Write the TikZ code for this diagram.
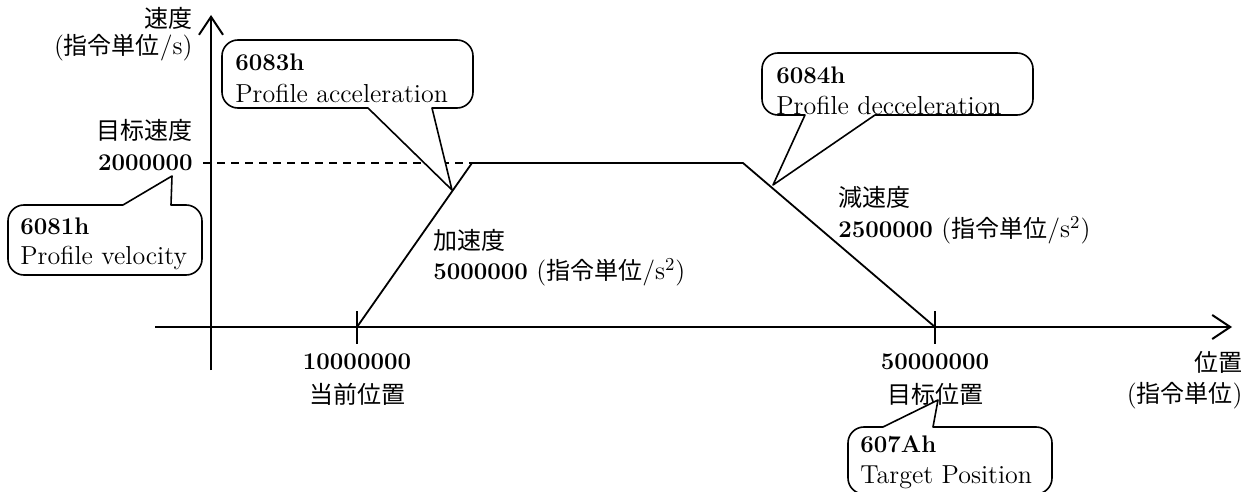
\documentclass[tikz,border=0pt]{standalone}
\usepackage{fontspec}
\newfontfamily\cjk{Noto Sans CJK JP}
\usetikzlibrary{arrows.meta}
\begin{document}
\begin{tikzpicture}[x=0.5pt,y=-0.5pt, line join=round,
  txt/.style={inner sep=0pt, font=\fontsize{13pt}{15pt}\selectfont},
  cj/.style={inner sep=0pt, font=\fontsize{12pt}{14pt}\selectfont\cjk},
  num/.style={inner sep=0pt, font=\fontsize{12pt}{14pt}\selectfont\bfseries},
  callout/.style={line width=0.8pt, fill=white},
  axis/.style={line width=1pt, -{Straight Barb[length=9pt,width=12pt,line width=1pt]}},
  curve/.style={line width=0.9pt}]
\useasboundingbox (0,0) rectangle (1244,492);
% axes
\coordinate (yb) at (211,370); \coordinate (yt) at (211,15);
\coordinate (xl) at (155,327); \coordinate (xr) at (1232,327);
\draw[axis] (yb) -- (yt);
\draw[axis] (xl) -- (xr);
% profile
\coordinate (p0) at (357,327); \coordinate (p1) at (472,163);
\coordinate (p2) at (743,163); \coordinate (p3) at (935,327);
\coordinate (t0a) at (357,311); \coordinate (t0b) at (357,344);
\coordinate (t3a) at (935,311); \coordinate (t3b) at (935,344);
\draw[line width=1pt] (t0a) -- (t0b);
\draw[line width=1pt] (t3a) -- (t3b);
\coordinate (d0) at (203,163);
\draw[line width=0.8pt, dash pattern=on 4pt off 3pt] (d0) -- (p1);
\draw[curve] (p0) -- (p1) -- (p2) -- (p3);
% axis labels
\node[cj, anchor=east] (vl1) at (193,18) {速度};
\node[txt, anchor=east] (vl2) at (193,48) {({\cjk\fontsize{12pt}{14pt}\selectfont 指令単位}/s)};
\node[cj, anchor=east] (tv1) at (193,130) {目标速度};
\node[num, anchor=east] (tv2) at (193,163) {2000000};
\node[cj, anchor=east] (pl1) at (1243,362) {位置};
\node[txt, anchor=east] (pl2) at (1243,396) {({\cjk\fontsize{12pt}{14pt}\selectfont 指令単位})};
\node[num] (x0) at (357,362) {10000000};
\node[cj] (x0b) at (357,394) {当前位置};
\node[num] (x1) at (935,362) {50000000};
\node[cj] (x1b) at (935,394) {目标位置};
\node[cj, anchor=west] (a1) at (433,240) {加速度};
\node[txt, anchor=west] (a2) at (433,272) {{\bfseries\fontsize{12pt}{14pt}\selectfont 5000000} ({\cjk\fontsize{12pt}{14pt}\selectfont 指令単位}/s\textsuperscript{2})};
\node[cj, anchor=west] (b1) at (838,197) {減速度};
\node[txt, anchor=west] (b2) at (838,230) {{\bfseries\fontsize{12pt}{14pt}\selectfont 2500000} ({\cjk\fontsize{12pt}{14pt}\selectfont 指令単位}/s\textsuperscript{2})};
% callouts
\draw[callout] (172,176) [sharp corners] -- (123,205) [rounded corners=8pt] -- (8,205) -- (8,275) -- (202,275) -- (202,205) [sharp corners] -- (171,205) -- cycle;
\draw[callout] (452,190) [sharp corners] -- (368,108) [rounded corners=8pt] -- (222,108) -- (222,40) -- (473,40) -- (473,108) [sharp corners] -- (432,108) -- cycle;
\draw[callout] (773,185) [sharp corners] -- (805,115) [rounded corners=8pt] -- (762,115) -- (762,53) -- (1033,53) -- (1033,115) [sharp corners] -- (875,115) -- cycle;
\draw[callout] (938,400) [sharp corners] -- (883,427) [rounded corners=8pt] -- (848,427) -- (848,494) -- (1052,494) -- (1052,427) [sharp corners] -- (933,427) -- cycle;
\node[num, anchor=west] (c1a) at (20,226) {6081h};
\node[txt, anchor=west] (c1b) at (20,258) {Profile velocity};
\node[num, anchor=west] (c2a) at (235,62) {6083h};
\node[txt, anchor=west] (c2b) at (235,93) {Profile acceleration};
\node[num, anchor=west] (c3a) at (776,75) {6084h};
\node[txt, anchor=west] (c3b) at (776,105) {Profile decceleration};
\node[num, anchor=west] (c4a) at (860,444) {607Ah};
\node[txt, anchor=west] (c4b) at (860,477) {Target Position};
\end{tikzpicture}
\end{document}
